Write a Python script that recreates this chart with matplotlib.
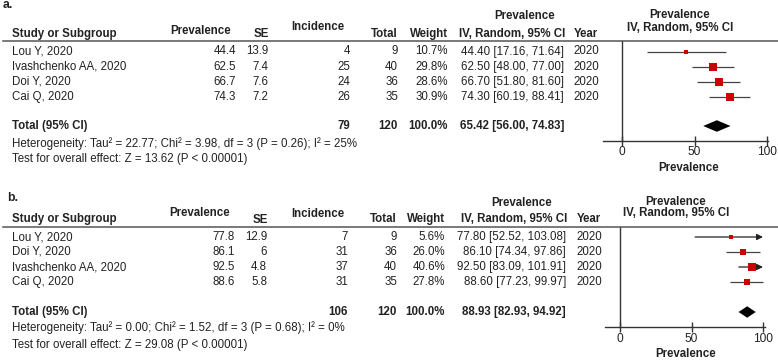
import matplotlib
matplotlib.use("Agg")
import matplotlib.pyplot as plt
import numpy as np

# ---------------- data ----------------
a_studies = ["Lou Y, 2020", "Ivashchenko AA, 2020", "Doi Y, 2020", "Cai Q, 2020"]
a_prev = [44.4, 62.5, 66.7, 74.3]
a_se = [13.9, 7.4, 7.6, 7.2]
a_inc = [4, 25, 24, 26]
a_total = [9, 40, 36, 35]
a_weight = [10.7, 29.8, 28.6, 30.9]
a_est = [44.40, 62.50, 66.70, 74.30]
a_lo = [17.16, 48.00, 51.80, 60.19]
a_hi = [71.64, 77.00, 81.60, 88.41]
a_year = [2020, 2020, 2020, 2020]
a_pooled = [65.42, 56.00, 74.83]
a_sum_inc, a_sum_total = 79, 120
a_het = "Heterogeneity: Tau\u00b2 = 22.77; Chi\u00b2 = 3.98, df = 3 (P = 0.26); I\u00b2 = 25%"
a_test = "Test for overall effect: Z = 13.62 (P < 0.00001)"

b_studies = ["Lou Y, 2020", "Doi Y, 2020", "Ivashchenko AA, 2020", "Cai Q, 2020"]
b_prev = [77.8, 86.1, 92.5, 88.6]
b_se = [12.9, 6, 4.8, 5.8]
b_inc = [7, 31, 37, 31]
b_total = [9, 36, 40, 35]
b_weight = [5.6, 26.0, 40.6, 27.8]
b_est = [77.80, 86.10, 92.50, 88.60]
b_lo = [52.52, 74.34, 83.09, 77.23]
b_hi = [103.08, 97.86, 101.91, 99.97]
b_year = [2020, 2020, 2020, 2020]
b_pooled = [88.93, 82.93, 94.92]
b_sum_inc, b_sum_total = 106, 120
b_het = "Heterogeneity: Tau\u00b2 = 0.00; Chi\u00b2 = 1.52, df = 3 (P = 0.68); I\u00b2 = 0%"
b_test = "Test for overall effect: Z = 29.08 (P < 0.00001)"

xticks = [0, 50, 100]

# ---------------- layout ----------------
W, H = 778, 360
FS = 8.3
FONT = ["Liberation Sans", "DejaVu Sans"]
TXT = "#222222"
RED = "#cc0000"
LINE = "#444444"

fig = plt.figure(figsize=(W / 100, H / 100), dpi=100)


def T(x, y, s, ha="left", bold=False, size=FS):
    fig.text(x / W, 1 - y / H, s, ha=ha, va="center", fontsize=size,
             fontweight="bold" if bold else "normal", family=FONT, color=TXT)


def hline(y, x0, x1):
    fig.add_artist(plt.Line2D([x0 / W, x1 / W], [1 - y / H, 1 - y / H],
                              color="#555555", lw=1.1, transform=fig.transFigure))


panels = [
    dict(label="a.", lx=3, ly=5, studies=a_studies, prev=a_prev, se=a_se, inc=a_inc,
         total=a_total, weight=a_weight, est=a_est, lo=a_lo, hi=a_hi, year=a_year,
         pooled=a_pooled, si=a_sum_inc, st=a_sum_total, het=a_het, test=a_test,
         hdr=dict(prev=(201, 31), se=(261, 34), inc=(318, 27), study=34, total=(398, 34),
                  weight=(448, 34), ptop=(525, 16), iv=(512, 34), year=(586, 34),
                  rp=(680, 15), riv=(680, 28)),
         cols=dict(prev=236, se=268, inc=350, total=398, weight=448, ci=564, year=586),
         hl=41, row0=51.5, dy=15.2, tot=126, het_y=144, test_y=159,
         ax_y=140.7, ax_x0=603, ax_x1=768, x0px=622, x100px=767,
         tick_y=150, xl_y=168),
    dict(label="b.", lx=7, ly=198, studies=b_studies, prev=b_prev, se=b_se, inc=b_inc,
         total=b_total, weight=b_weight, est=b_est, lo=b_lo, hi=b_hi, year=b_year,
         pooled=b_pooled, si=b_sum_inc, st=b_sum_total, het=b_het, test=b_test,
         hdr=dict(prev=(200, 213), se=(260, 220), inc=(318, 214), study=219, total=(397, 219),
                  weight=(445, 219), ptop=(522, 203), iv=(514, 219), year=(589, 219),
                  rp=(676, 202), riv=(676, 213)),
         cols=dict(prev=235, se=267, inc=348, total=397, weight=445, ci=566, year=589),
         hl=226.5, row0=237, dy=15.0, tot=312, het_y=328, test_y=345,
         ax_y=327, ax_x0=605, ax_x1=765, x0px=620, x100px=763,
         tick_y=335, xl_y=354),
]

for p in panels:
    h = p["hdr"]
    c = p["cols"]
    T(p["lx"], p["ly"], p["label"], bold=True, size=FS + 0.5)
    T(12, h["study"], "Study or Subgroup", bold=True)
    T(h["prev"][0], h["prev"][1], "Prevalence", ha="center", bold=True)
    T(h["se"][0], h["se"][1], "SE", ha="center", bold=True)
    T(h["inc"][0], h["inc"][1], "Incidence", ha="center", bold=True)
    T(h["total"][0], h["total"][1], "Total", ha="right", bold=True)
    T(h["weight"][0], h["weight"][1], "Weight", ha="right", bold=True)
    T(h["ptop"][0], h["ptop"][1], "Prevalence", ha="center", bold=True)
    T(h["iv"][0], h["iv"][1], "IV, Random, 95% CI", ha="center", bold=True)
    T(h["year"][0], h["year"][1], "Year", ha="center", bold=True)
    T(h["rp"][0], h["rp"][1], "Prevalence", ha="center", bold=True)
    T(h["riv"][0], h["riv"][1], "IV, Random, 95% CI", ha="center", bold=True)
    hline(p["hl"], 3, W)

    n = len(p["studies"])
    for i in range(n):
        y = p["row0"] + i * p["dy"]
        T(12, y, p["studies"][i])
        T(c["prev"], y, f"{p['prev'][i]:g}", ha="right")
        T(c["se"], y, f"{p['se'][i]:g}", ha="right")
        T(c["inc"], y, f"{p['inc'][i]}", ha="right")
        T(c["total"], y, f"{p['total'][i]}", ha="right")
        T(c["weight"], y, f"{p['weight'][i]:.1f}%", ha="right")
        T(c["ci"], y, f"{p['est'][i]:.2f} [{p['lo'][i]:.2f}, {p['hi'][i]:.2f}]", ha="right")
        T(c["year"], y, f"{p['year'][i]}", ha="center")

    ty = p["tot"]
    T(12, ty, "Total (95% CI)", bold=True)
    T(c["inc"], ty, f"{p['si']}", ha="right", bold=True)
    T(c["total"], ty, f"{p['st']}", ha="right", bold=True)
    T(c["weight"], ty, f"{sum(p['weight']):.1f}%", ha="right", bold=True)
    pe, pl, ph = p["pooled"]
    T(c["ci"], ty, f"{pe:.2f} [{pl:.2f}, {ph:.2f}]", ha="right", bold=True)
    T(12, p["het_y"], p["het"])
    T(12, p["test_y"], p["test"])

    # ---- forest axes ----
    scale = (p["x100px"] - p["x0px"]) / 100.0
    xmin = (p["ax_x0"] - p["x0px"]) / scale
    xmax = (p["ax_x1"] - p["x0px"]) / scale
    top_px, bot_px = p["hl"], p["ax_y"]
    ax = fig.add_axes([p["ax_x0"] / W, 1 - bot_px / H,
                       (p["ax_x1"] - p["ax_x0"]) / W, (bot_px - top_px) / H])
    ax.set_xlim(xmin, xmax)
    ytop = (top_px - p["row0"]) / p["dy"]
    ybot = (bot_px - p["row0"]) / p["dy"]
    ax.set_ylim(ybot, ytop)
    ax.patch.set_alpha(0)
    for s in ["top", "right", "left"]:
        ax.spines[s].set_visible(False)
    ax.spines["bottom"].set_color("#333333")
    ax.spines["bottom"].set_linewidth(1.0)
    ax.set_yticks([])
    ax.set_xticks(xticks)
    ax.set_xticklabels([str(t) for t in xticks], fontsize=FS + 0.3, family=FONT, color=TXT)
    ax.tick_params(axis="x", direction="inout", length=7, width=1.0, color="#333333", pad=0.5)
    ax.axvline(0, color="#333333", lw=1.0, clip_on=False)

    for i in range(n):
        lo, hi, est, w = p["lo"][i], p["hi"][i], p["est"][i], p["weight"][i]
        if hi > 100:
            ax.annotate("", xy=(100, i), xytext=(lo, i),
                        arrowprops=dict(arrowstyle="-|>", color="#222222", lw=0.9,
                                        mutation_scale=9, shrinkA=0, shrinkB=0))
        else:
            ax.plot([lo, hi], [i, i], color=LINE, lw=0.9, solid_capstyle="butt")
        ax.plot([est], [i], marker="s", ms=0.95 * np.sqrt(w), color=RED, mew=0, zorder=3)

    tot_idx = (p["tot"] - p["row0"]) / p["dy"]
    hh = 0.38
    ax.fill([pl, pe, ph, pe], [tot_idx, tot_idx - hh, tot_idx, tot_idx + hh],
            color="black", lw=0)

    T((p["x0px"] + p["x100px"]) / 2 - 6, p["xl_y"], "Prevalence", ha="center", bold=True)

fig.savefig("out.png", dpi=100)
